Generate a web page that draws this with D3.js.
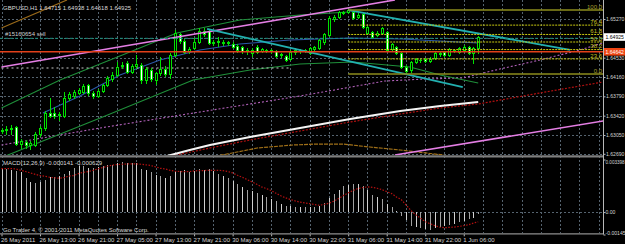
<!DOCTYPE html>
<html><head><meta charset="utf-8">
<script src="https://cdn.jsdelivr.net/npm/d3@7"></script>
<style>html,body{margin:0;padding:0;background:#000;overflow:hidden}svg{display:block}text{font-family:"Liberation Sans",Arial,sans-serif}</style>
</head><body><svg id="c" width="625" height="244"></svg>
<script>
// ---------- DATA ----------
const title = "GBPUSD,H1  1.64715 1.64938 1.64618 1.64925";
const macdTitle = "MACD(12,26,9) -0.000141 -0.000629";
const copyright = "Go Trader 4, \u00a9 2001-2011 MetaQuotes Software Corp.";
const orderLabel = "#15160654 sell";
const timeLabels = ["26 May 2011","26 May 13:00","26 May 21:00","27 May 05:00","27 May 13:00","27 May 21:00","30 May 06:00","30 May 14:00","30 May 22:00","31 May 06:00","31 May 14:00","31 May 22:00","1 Jun 06:00"];
const priceTicks = [1.65270,1.64900,1.64530,1.64160,1.63790,1.63420,1.63050,1.62690];
const bidPrice = 1.64925;
const orderStop = 1.64642;
const orderOpen = 1.64900;
const macdTicks = [0.003398, 0.0, -0.00145];

const open = [1.63126,1.63145,1.63165,1.63203,1.62877,1.62916,1.62858,1.62858,1.63069,1.63184,
1.63471,1.63471,1.63433,1.63413,1.63758,1.63796,1.63854,1.63873,1.64007,1.63854,
1.63796,1.63892,1.64007,1.64122,1.64198,1.64370,1.64428,1.64256,1.64370,1.64390,
1.64102,1.64294,1.64102,1.64236,1.64313,1.64217,1.64581,1.64983,1.64849,1.64658,
1.64715,1.64830,1.65040,1.65040,1.64811,1.64830,1.64830,1.64811,1.64792,1.64753,
1.64734,1.64677,1.64619,1.64734,1.64658,1.64677,1.64677,1.64658,1.64581,1.64562,
1.64504,1.64638,1.64658,1.64658,1.64619,1.64696,1.64715,1.64830,1.64964,1.65270,
1.65308,1.65385,1.65404,1.65404,1.65308,1.65366,1.65002,1.65021,1.64964,1.65002,
1.65021,1.64696,1.64734,1.64619,1.64351,1.64294,1.64447,1.64485,1.64504,1.64466,
1.64524,1.64600,1.64638,1.64581,1.64677,1.64638,1.64677,1.64734,1.64619,1.64715];
const close = [1.63145,1.63165,1.63184,1.62877,1.62935,1.62858,1.62897,1.63069,1.63184,1.63471,
1.63413,1.63413,1.63452,1.63758,1.63834,1.63873,1.63911,1.63988,1.63854,1.63796,
1.63892,1.64007,1.64141,1.64198,1.64351,1.64390,1.64256,1.64370,1.64409,1.64102,
1.64313,1.64122,1.64236,1.64313,1.64217,1.64581,1.65002,1.64849,1.64638,1.64696,
1.64830,1.65040,1.64983,1.64811,1.64830,1.64849,1.64811,1.64830,1.64734,1.64677,
1.64658,1.64658,1.64677,1.64638,1.64696,1.64658,1.64658,1.64562,1.64600,1.64485,
1.64638,1.64677,1.64677,1.64677,1.64715,1.64734,1.64868,1.64983,1.65289,1.65308,
1.65404,1.65404,1.65442,1.65289,1.65347,1.65117,1.65117,1.64926,1.65002,1.65098,
1.64677,1.64792,1.64619,1.64351,1.64275,1.64447,1.64504,1.64480,1.64466,1.64504,
1.64619,1.64619,1.64581,1.64696,1.64658,1.64715,1.64734,1.64619,1.64715,1.64925];
const high = [1.63184,1.63222,1.63241,1.63222,1.62973,1.62954,1.62935,1.63107,1.63222,1.63509,
1.63758,1.63586,1.63490,1.63873,1.63873,1.63911,1.63949,1.64026,1.64026,1.63892,
1.63930,1.64026,1.64179,1.64256,1.64447,1.64447,1.64466,1.64409,1.64581,1.64428,
1.64351,1.64332,1.64256,1.64543,1.64370,1.64619,1.65059,1.65002,1.64887,1.64734,
1.64906,1.65098,1.65098,1.65079,1.64868,1.64926,1.64868,1.64849,1.64830,1.64792,
1.64753,1.64715,1.64715,1.64772,1.64715,1.64696,1.64696,1.64677,1.64619,1.64581,
1.64677,1.64715,1.64696,1.64696,1.64734,1.64753,1.64887,1.65002,1.65327,1.65347,
1.65423,1.65423,1.65481,1.65423,1.65385,1.65385,1.65136,1.65040,1.65040,1.65117,
1.65040,1.64811,1.64753,1.64638,1.64390,1.64466,1.64524,1.64504,1.64524,1.64543,
1.64638,1.64638,1.64658,1.64715,1.64696,1.64734,1.64772,1.64753,1.64734,1.64938];
const low = [1.63088,1.63069,1.63069,1.62858,1.62801,1.62801,1.62782,1.62839,1.63031,1.63145,
1.63394,1.63375,1.63337,1.63394,1.63720,1.63758,1.63834,1.63854,1.63815,1.63758,
1.63777,1.63873,1.63988,1.64083,1.64179,1.64332,1.64236,1.64236,1.64332,1.64045,
1.64045,1.64083,1.64026,1.64198,1.64179,1.64141,1.64562,1.64811,1.64619,1.64619,
1.64696,1.64811,1.64945,1.64792,1.64772,1.64753,1.64772,1.64772,1.64715,1.64638,
1.64619,1.64600,1.64562,1.64619,1.64638,1.64638,1.64619,1.64543,1.64543,1.64466,
1.64485,1.64600,1.64619,1.64638,1.64600,1.64658,1.64696,1.64792,1.64945,1.65232,
1.65289,1.65366,1.65385,1.65270,1.65289,1.65098,1.64983,1.64906,1.64945,1.64983,
1.64658,1.64677,1.64600,1.64332,1.64217,1.64256,1.64428,1.64447,1.64447,1.64447,
1.64504,1.64562,1.64562,1.64562,1.64638,1.64619,1.64658,1.64600,1.64428,1.64618];

const macd = [0.00282,
0.00279,0.00270,0.00264,0.00257,0.00221,0.00193,0.00189,0.00195,0.00210,0.00225,0.00225,0.00232,0.00247,0.00268,0.00283,0.00296,0.00296,0.00286,0.00286,0.00292,0.00296,0.00303,0.00307,0.00314,0.00324,0.00318,0.00314,0.00314,0.00281,0.00270,0.00257,0.00242,0.00232,0.00221,0.00236,0.00268,0.00264,0.00270,0.00257,0.00264,0.00279,0.00275,
0.00279,0.00264,0.00249,0.00236,0.00221,0.00199,0.00184,0.00163,0.00145,0.00135,0.00124,0.00113,0.00098,0.00085,0.00070,0.00055,0.00042,0.00038,0.00033,0.00033,0.00033,0.00033,0.00033,0.00038,0.00059,0.00092,0.00120,0.00145,0.00167,0.00178,0.00182,0.00184,0.00171,0.00141,0.00113,0.00098,0.00085,0.00055,0.00033,0.00005,
-0.00028,-0.00054,-0.00088,-0.00097,-0.00103,-0.00110,-0.00114,-0.00103,-0.00097,-0.00088,-0.00082,-0.00075,-0.00067,-0.00060,-0.00045,-0.00039,-0.000141];
const signal = [0.00281,0.00281,0.00281,0.00279,0.00270,0.00262,0.00253,0.00244,0.00236,0.00232,0.00225,0.00221,0.00219,0.00223,0.00232,0.00236,0.00249,0.00257,0.00262,0.00270,0.00279,0.00288,0.00296,0.00303,0.00307,0.00309,0.00311,0.00311,0.00311,0.00309,0.00305,0.00301,0.00292,0.00283,0.00279,0.00270,0.00264,0.00262,0.00262,0.00262,0.00266,0.00268,0.00268,
0.00270,0.00270,0.00270,0.00268,0.00262,0.00253,0.00238,0.00225,0.00210,0.00195,0.00180,0.00163,0.00152,0.00139,0.00122,0.00105,0.00092,0.00081,0.00072,0.00064,0.00059,0.00055,0.00049,0.00044,0.00049,0.00057,0.00070,0.00087,0.00107,0.00124,0.00139,0.00152,0.00158,0.00163,0.00160,0.00154,0.00145,0.00132,0.00120,0.00098,0.00081,
0.00047,0.00011,-0.00017,-0.00039,-0.00062,-0.00075,-0.00088,-0.00097,-0.00101,-0.00099,-0.00097,-0.00093,-0.00088,-0.00082,-0.00071,-0.000629];

// indicator / object lines as [bar index, price]
const pinkUpper = [[0,1.64351],[81.7,1.65634]];
const pinkLower = [[81.7,1.62667],[125,1.63318]];
const cyanA = [[42.7,1.65079],[95.8,1.63968]];
const cyanB = [[72,1.65442],[118.1,1.64677]];
const brownTop = [[0,1.65098],[13.6,1.65634]];
const brownArc = [[43.3,1.62629],[44.8,1.62648],[53.1,1.62801],[60.5,1.62858],[65.5,1.62877],[70.9,1.62877],[76.5,1.62820],[82.8,1.62763],[91.7,1.62667],[93.1,1.62629]];
const whiteMA = [[30.8,1.62571],[34.4,1.62648],[39.1,1.62763],[43.3,1.62858],[51.6,1.63011],[62.0,1.63184],[72.4,1.63356],[82.8,1.63509],[91.1,1.63605],[99.0,1.63681]];
const redMA = [[26.7,1.62571],[34.4,1.62629],[43.3,1.62801],[51.6,1.62954],[62.0,1.63126],[72.4,1.63299],[82.8,1.63452],[91.1,1.63567],[99.0,1.63643],[111.8,1.63854],[124.9,1.64064]];
const purpleSpan = [[0,1.62858],[20.5,1.63184],[41.2,1.63490],[62.0,1.63796],[79.6,1.64083],[88.0,1.64122],[95.8,1.64141],[103.5,1.64313],[111.8,1.64485],[120.1,1.64677],[124.9,1.64811]];
const blueLine = [[8.6,1.63471],[16.3,1.63796],[24.6,1.64198],[32.9,1.64485],[41.2,1.64677],[49.5,1.64792],[59.9,1.64868],[72.4,1.64906],[83.1,1.64887],[99.0,1.64811]];
const greenUpper = [[0,1.63567],[12.15,1.64102],[24.6,1.64562],[36.4,1.65002],[49.5,1.65251],[62.0,1.65347],[72.0,1.65404]];
const greenLower = [[0.3,1.62629],[20.5,1.63375],[39.8,1.64102],[51.6,1.64294],[62.0,1.64409],[73.0,1.64447],[84.8,1.64351],[91.1,1.64198],[99.0,1.64045]];
const whiteDotted = [[0,1.64332],[60,1.64332]];
const fibHigh = 1.65442, fibLow = 1.64217, fibStart = 72, fibEnd = 125;
const fibLevels = [0, 23.6, 38.2, 50.0, 61.8, 76.4, 100.0];

// ---------- SCALES ----------
const W = 625, H = 244, plotR = 603.4;
const x = d3.scaleLinear().domain([0,125]).range([1.5, plotR]);
const y = d3.scaleLinear().domain([1.62690,1.65270]).range([153.8,19]);
const my = d3.scaleLinear().domain([-0.00145,0.003398]).range([234.5,159.5]);

const svg = d3.select("#c");
svg.append("rect").attr("width",W).attr("height",H).attr("fill","#000");
const defs = svg.append("defs");
defs.append("clipPath").attr("id","mainClip").append("rect").attr("x",0).attr("y",0).attr("width",603).attr("height",155.3);
defs.append("clipPath").attr("id","macdClip").append("rect").attr("x",0).attr("y",158).attr("width",603).attr("height",75.5);

const gridCol = "#55636f";
const grid = svg.append("g").attr("shape-rendering","crispEdges");
const vBars = d3.range(0,125,4);
grid.selectAll(".vg").data(vBars).join("line")
  .attr("x1",d=>Math.round(x(d))+0.5).attr("x2",d=>Math.round(x(d))+0.5)
  .attr("y1",0).attr("y2",233).attr("stroke",gridCol).attr("stroke-dasharray","2,2");
grid.selectAll(".hg").data(priceTicks).join("line")
  .attr("x1",0).attr("x2",603).attr("y1",d=>Math.round(y(d))+0.5).attr("y2",d=>Math.round(y(d))+0.5)
  .attr("stroke",gridCol).attr("stroke-dasharray","2,2");
grid.append("line").attr("x1",0).attr("x2",603).attr("y1",Math.round(my(0))+0.5).attr("y2",Math.round(my(0))+0.5)
  .attr("stroke",gridCol).attr("stroke-dasharray","2,2");

const main = svg.append("g").attr("clip-path","url(#mainClip)");
const line = d3.line().x(d=>x(d[0])).y(d=>y(d[1]));

main.append("path").attr("d",line(purpleSpan)).attr("fill","none").attr("stroke","#b060b8").attr("stroke-width",1.1).attr("stroke-dasharray","2,2");
main.append("path").attr("d",line(brownTop)).attr("fill","none").attr("stroke","#9a6a1a").attr("stroke-width",1.2);
main.append("path").attr("d",line(brownArc)).attr("fill","none").attr("stroke","#a07018").attr("stroke-width",1.2).attr("stroke-dasharray","4,1");
main.append("path").attr("d",line(redMA)).attr("fill","none").attr("stroke","#b01010").attr("stroke-width",1.2).attr("stroke-dasharray","2,1.5");
main.append("path").attr("d",line(whiteMA)).attr("fill","none").attr("stroke","#f4f4f4").attr("stroke-width",2);
main.append("path").attr("d",line(greenUpper)).attr("fill","none").attr("stroke","#1f8f3a").attr("stroke-width",1.1);
main.append("path").attr("d",line(greenLower)).attr("fill","none").attr("stroke","#1f8f3a").attr("stroke-width",1.1);
main.append("path").attr("d",line(blueLine)).attr("fill","none").attr("stroke","#2a58a8").attr("stroke-width",1.1);
main.append("path").attr("d",line(whiteDotted)).attr("fill","none").attr("stroke","#c8c8c8").attr("stroke-width",1).attr("stroke-dasharray","2,3");

const candles = main.append("g").attr("shape-rendering","crispEdges");
open.forEach((o,i)=>{
  const cx = Math.round(x(i));
  const c = close[i];
  candles.append("line").attr("x1",cx+0.5).attr("x2",cx+0.5)
    .attr("y1",Math.round(y(high[i]))).attr("y2",Math.round(y(low[i]))+1)
    .attr("stroke","#00e000").attr("stroke-width",1);
  const t = Math.round(y(Math.max(o,c))), b = Math.round(y(Math.min(o,c)));
  if (b - t < 1) {
    candles.append("line").attr("x1",cx-1).attr("x2",cx+2).attr("y1",t+0.5).attr("y2",t+0.5).attr("stroke","#00e000");
  } else {
    candles.append("rect").attr("x",cx-0.5).attr("y",t+0.5).attr("width",2).attr("height",b-t)
      .attr("fill", c>=o ? "#000" : "#fff").attr("stroke","#00e000").attr("stroke-width",1);
  }
});

main.append("path").attr("d",line(pinkUpper)).attr("stroke","#e47ee4").attr("stroke-width",1.6).attr("fill","none");
main.append("path").attr("d",line(pinkLower)).attr("stroke","#e47ee4").attr("stroke-width",1.6).attr("fill","none");
main.append("path").attr("d",line(cyanA)).attr("stroke","#22b0b0").attr("stroke-width",1.8).attr("fill","none");
main.append("path").attr("d",line(cyanB)).attr("stroke","#22b0b0").attr("stroke-width",1.8).attr("fill","none");

main.append("line").attr("x1",0).attr("x2",603).attr("y1",y(orderOpen)).attr("y2",y(orderOpen))
  .attr("stroke","#1b8f7e").attr("stroke-width",1).attr("stroke-dasharray","3,2");
main.append("line").attr("x1",0).attr("x2",603).attr("y1",y(orderStop)).attr("y2",y(orderStop))
  .attr("stroke","#e2401a").attr("stroke-width",1.6);

const fib = main.append("g");
fibLevels.forEach(l=>{
  const p = fibLow + (fibHigh-fibLow)*l/100;
  const edge = (l===0||l===100);
  fib.append("line").attr("x1",x(fibStart)).attr("x2",603).attr("y1",y(p)).attr("y2",y(p))
    .attr("stroke", edge ? "#8c8c1c" : "#caca10").attr("stroke-width", edge?1.4:1)
    .attr("stroke-dasharray", edge ? null : "2,1");
  fib.append("text").attr("x",602).attr("y",y(p)-1.2).attr("text-anchor","end")
    .attr("font-size","6px").attr("fill", edge ? "#a8a030" : "#c8c020").text(l.toFixed(1));
});

main.append("text").attr("x",5).attr("y",y(orderOpen)-2.5).attr("font-size","6px").attr("fill","#cfcfcf").text(orderLabel);
svg.append("text").attr("x",3).attr("y",9.5).attr("font-size","6px").attr("fill","#d8d8d8").text(title);

const mp = svg.append("g").attr("clip-path","url(#macdClip)");
mp.append("g").attr("shape-rendering","crispEdges").selectAll("line").data(macd).join("line")
  .attr("x1",(d,i)=>Math.round(x(i))+0.5).attr("x2",(d,i)=>Math.round(x(i))+0.5)
  .attr("y1",my(0)).attr("y2",d=>my(d)).attr("stroke",(d,i)=> i%2 ? "#a0a0a0" : "#d0d0d0").attr("stroke-width",1);
mp.append("path").attr("d",d3.line().x((d,i)=>x(i)).y(d=>my(d))(signal))
  .attr("fill","none").attr("stroke","#b41010").attr("stroke-width",1.2).attr("stroke-dasharray","1.5,1.5");
svg.append("text").attr("x",3).attr("y",164.5).attr("font-size","6px").attr("fill","#d8d8d8").text(macdTitle);
svg.append("text").attr("x",3).attr("y",231.5).attr("font-size","6px").attr("fill","#d8d8d8").text(copyright);

svg.append("rect").attr("x",0).attr("y",155.3).attr("width",603.5).attr("height",2.2).attr("fill","#7e7e7e");
svg.append("line").attr("x1",0).attr("x2",603.5).attr("y1",233.8).attr("y2",233.8).attr("stroke","#8e8e8e").attr("stroke-width",1.2);
svg.append("line").attr("x1",603.5).attr("x2",603.5).attr("y1",0).attr("y2",234.5).attr("stroke","#b8b8b8").attr("stroke-width",1);

const axFont = "5.1px";
const ax = svg.append("g").attr("transform","translate(603.5,0)")
  .call(d3.axisRight(y).tickValues(priceTicks.filter(v=>v!==orderOpen)).tickFormat(d3.format(".5f")).tickSize(2).tickPadding(0.5));
ax.select(".domain").remove();
ax.selectAll("line").attr("stroke","#b8b8b8");
ax.selectAll("text").attr("font-size",axFont).attr("fill","#d4d4d4").attr("font-family","Liberation Sans, Arial, sans-serif");

[[bidPrice,"#ffffff","#000000"],[orderStop,"#f04614","#ffffff"]].forEach(([p,bg,fg])=>{
  svg.append("rect").attr("x",604).attr("y",y(p)-3.8).attr("width",21).attr("height",7.6).attr("fill",bg);
  svg.append("text").attr("x",605.5).attr("y",y(p)+1.8).attr("font-size",axFont).attr("fill",fg).text(d3.format(".5f")(p));
});

const max = svg.append("g").attr("transform","translate(603.5,0)")
  .call(d3.axisRight(my).tickValues(macdTicks).tickFormat(d=> d===0 ? "0.00" : (d>0 ? d.toFixed(6) : d.toFixed(5))).tickSize(2).tickPadding(0));
max.select(".domain").remove();
max.selectAll("line").attr("stroke","#b8b8b8");
max.selectAll("text").attr("font-size",axFont).attr("fill","#d4d4d4").attr("font-family","Liberation Sans, Arial, sans-serif");
max.selectAll(".tick").filter(d=>d>0.003).select("text").attr("dy","0.9em").attr("font-size","4.6px");
max.selectAll(".tick").filter(d=>d<-0.001).select("text").attr("dy","-0.1em");

const tBars = timeLabels.map((t,i)=>i*8);
const tx = svg.append("g").attr("transform","translate(0,234.3)")
  .call(d3.axisBottom(x).tickValues(tBars).tickFormat((d,i)=>timeLabels[i]).tickSize(2).tickPadding(1));
tx.select(".domain").remove();
tx.selectAll("line").attr("stroke","#b8b8b8");
tx.selectAll("text").attr("text-anchor","start").attr("dx","-1").attr("font-size","6px").attr("fill","#d4d4d4").attr("font-family","Liberation Sans, Arial, sans-serif");
</script></body></html>
